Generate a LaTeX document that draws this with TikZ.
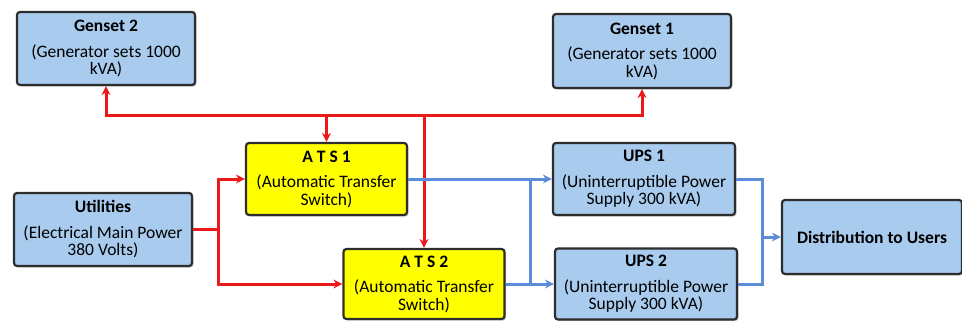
\documentclass[tikz,border=0pt]{standalone}
\usepackage{fontspec}
\setmainfont{Carlito}
\usepackage{tikz}
\usetikzlibrary{arrows.meta,positioning,calc,shadows}
\definecolor{CaixaAzul}{RGB}{168,203,238}
\definecolor{CaixaAmarela}{RGB}{255,255,0}
\definecolor{CaixaBorda}{RGB}{45,45,45}
\definecolor{LinhaVermelha}{RGB}{235,25,25}
\definecolor{LinhaAzul}{RGB}{90,140,215}
\tikzset{
  equipamento/.style={draw=CaixaBorda, fill=CaixaAzul, line width=2.2pt, rounded corners=3pt,
                align=center, font=\fontsize{17.5}{17.5}\selectfont, inner sep=2pt,
                drop shadow={shadow xshift=1.5pt, shadow yshift=-1.5pt, opacity=0.4}},
  chave/.style={equipamento, fill=CaixaAmarela},
  relacaovermelha/.style={-{Stealth[length=9pt,width=9pt]}, line width=3pt, LinhaVermelha},
  relacaoazul/.style={-{Stealth[length=9pt,width=9pt]}, line width=3pt, LinhaAzul},
}

\begin{document}
\begin{tikzpicture}[x=1pt,y=-1pt]

  \useasboundingbox (0,0) rectangle (962,324);

  \node[equipamento,minimum width=178pt,minimum height=73pt] (genset2) at (106, 48.5) {\textbf{Genset 2}\\[8pt](Generator sets 1000\\kVA)};
  \node[equipamento,minimum width=178pt,minimum height=74pt] (genset1) at (642, 51)   {\textbf{Genset 1}\\[8pt](Generator sets 1000\\kVA)};
  \node[equipamento,minimum width=178pt,minimum height=73pt] (utilities) at (103, 229.5) {\textbf{Utilities}\\[8pt](Electrical Main Power\\380 Volts)};

  \node[chave,minimum width=161pt,minimum height=72pt] (ats1) at (326.5, 179) {\textbf{A T S 1}\\[8pt](Automatic Transfer\\Switch)};
  \node[chave,minimum width=161pt,minimum height=70pt] (ats2) at (424, 284)   {\textbf{A T S 2}\\[8pt](Automatic Transfer\\Switch)};

  \node[equipamento,minimum width=182pt,minimum height=72pt] (ups1) at (644, 179) {\textbf{UPS 1}\\[8pt](Uninterruptible Power\\Supply 300 kVA)};
  \node[equipamento,minimum width=182pt,minimum height=71pt] (ups2) at (646, 284) {\textbf{UPS 2}\\[8pt](Uninterruptible Power\\Supply 300 kVA)};

  \node[equipamento,minimum width=180pt,minimum height=74pt] (dist) at (872, 237) {\textbf{Distribution to Users}};

  % red supply lines: utilities split, generator bus
  \coordinate (rsplit) at (218, 229.5);
  \coordinate (bus)    at (424, 115);
  \draw[relacaovermelha,-] (utilities.east) -- (rsplit);
  \draw[relacaovermelha] (rsplit) |- (ats1.west);
  \draw[relacaovermelha] (rsplit) |- (ats2.west);
  \draw[relacaovermelha] (bus) -| (genset2.south);
  \draw[relacaovermelha] (bus) -| (genset1.south);
  \draw[relacaovermelha] (bus) -- (ats2.north);
  \draw[relacaovermelha] (ats1.north |- bus) -- (ats1.north);

  % blue output lines
  \coordinate (bsplit) at (530, 0);
  \coordinate (bjoin)  at (762, 0);
  \draw[relacaoazul] (ats1.east) -- (ups1.west);
  \draw[relacaoazul] (ats2.east) -- (ups2.west);
  \draw[relacaoazul,-] (ats1.east -| bsplit) -- (ats2.east -| bsplit);
  \draw[relacaoazul,-] (ups1.east) -| (dist.west -| bjoin);
  \draw[relacaoazul,-] (ups2.east) -| (dist.west -| bjoin);
  \draw[relacaoazul] (dist.west -| bjoin) -- (dist.west);

\end{tikzpicture}
\end{document}
